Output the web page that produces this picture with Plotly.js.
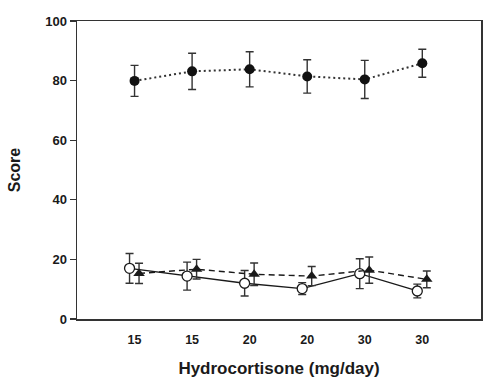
<!DOCTYPE html>
<html>
<head>
<meta charset="utf-8">
<script src="https://cdn.plot.ly/plotly-3.0.1.min.js"></script>
<style>html,body{margin:0;padding:0;background:#fff;}#chart{width:496px;height:386px;}</style>
</head>
<body>
<div id="chart"></div>
<script>
const doseLabels = ["15", "15", "20", "20", "30", "30"];
const filledCircleMean = [79.9, 83.1, 83.8, 81.4, 80.4, 85.8];
const filledCircleErr  = [5.2, 6.1, 5.9, 5.6, 6.4, 4.7];
const openCircleMean   = [17.0, 14.4, 12.0, 10.2, 15.2, 9.4];
const openCircleErr    = [5.0, 4.7, 4.3, 2.0, 5.0, 2.3];
const triangleMean     = [15.3, 16.7, 15.0, 14.4, 16.4, 13.3];
const triangleErr      = [3.4, 3.3, 3.8, 3.2, 4.4, 2.8];

const idx = doseLabels.map((_, i) => i);
const FONT = "Liberation Sans, Arial, Helvetica, sans-serif";
const ink = "#1a1a1a";
const errStyle = (arr) => ({type: "data", array: arr, visible: true, color: "#333", thickness: 1.4, width: 4});

const traces = [
  {
    x: idx.map(i => i - 0.087), y: openCircleMean, mode: "lines+markers",
    line: {color: ink, width: 1.3, dash: "solid"},
    marker: {symbol: "circle", size: 10, color: "#fff", line: {color: ink, width: 1.3}},
    error_y: errStyle(openCircleErr)
  },
  {
    x: idx.map(i => i + 0.078), y: triangleMean, mode: "lines+markers",
    line: {color: ink, width: 1.4, dash: "6px,4px"},
    marker: {symbol: "triangle-up", size: 10, color: ink},
    error_y: errStyle(triangleErr)
  },
  {
    x: idx, y: filledCircleMean, mode: "lines+markers",
    line: {color: "#333", width: 2, dash: "2px,3px"},
    marker: {symbol: "circle", size: 10, color: "#111"},
    error_y: errStyle(filledCircleErr)
  }
];

const layout = {
  width: 496, height: 386,
  margin: {l: 77, r: 15, t: 21, b: 67},
  paper_bgcolor: "#fff", plot_bgcolor: "#fff",
  showlegend: false,
  font: {family: FONT, color: ink},
  xaxis: {
    range: [-1, 6.02], tickmode: "array", tickvals: idx, ticktext: doseLabels,
    ticks: "", showgrid: false, zeroline: false,
    showline: true, linecolor: "#333", linewidth: 1.5, mirror: true,
    ticklabelstandoff: 8,
    tickfont: {family: FONT, size: 12.5, color: ink, weight: "bold"},
    title: {text: "<b>Hydrocortisone (mg/day)</b>", font: {family: FONT, size: 17, color: ink}, standoff: 16}
  },
  yaxis: {
    range: [0, 100], tickmode: "array", tickvals: [0, 20, 40, 60, 80, 100],
    ticks: "outside", ticklen: 6, tickwidth: 1.2, tickcolor: "#333",
    showgrid: false, zeroline: false,
    showline: true, linecolor: "#333", linewidth: 1.5, mirror: true,
    tickfont: {family: FONT, size: 13, color: ink, weight: "bold"},
    title: {text: "<b>Score</b>", font: {family: FONT, size: 16, color: ink}, standoff: 20}
  }
};

Plotly.newPlot("chart", traces, layout, {staticPlot: true, displayModeBar: false});
</script>
</body>
</html>
